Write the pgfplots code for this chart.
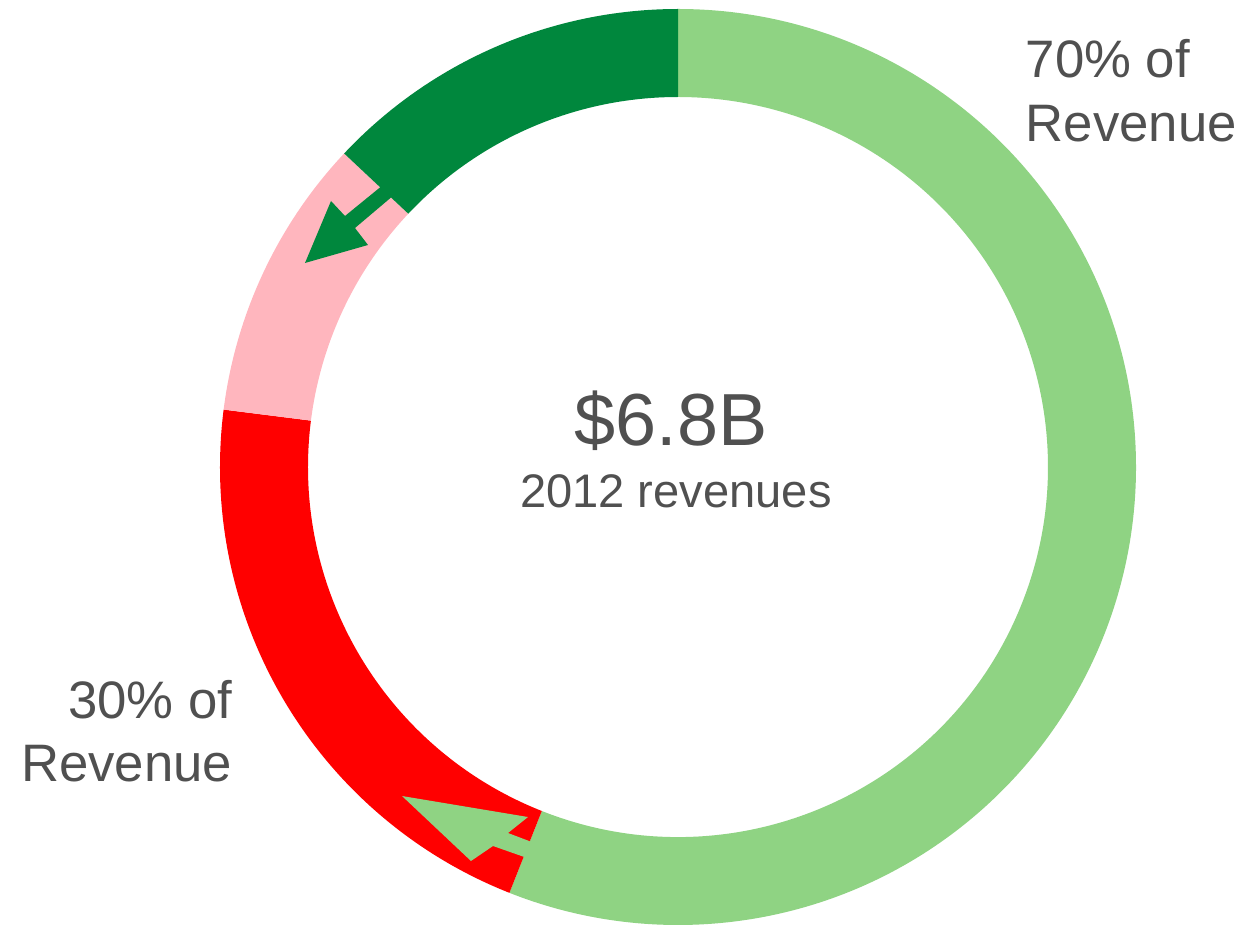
\documentclass[border=0pt]{standalone}
\usepackage{pgfplots}
\usepackage{pgfplotstable}
\pgfplotsset{compat=1.18}
\usepackage{fontspec}
\setmainfont{Liberation Sans}
\definecolor{lgreen}{HTML}{8FD383}
\definecolor{dgreen}{HTML}{00873D}
\definecolor{mypink}{HTML}{FFB6BE}
\definecolor{myred}{HTML}{FF0000}
\definecolor{txt}{HTML}{505050}

% shares of the donut, clockwise from 12 o'clock (percent)
\pgfplotstableread{
share
56
21
10
13
}\donut

\def\Ro{4.58}
\def\Ri{3.70}
\def\Rd{0.88}
\newcommand\ringseg[3]{%
  \fill[#3] (axis cs:0,0) ++(#1:\Ro) arc[start angle=#1, end angle=#2, radius=\Ro]
    -- ++({#2+180}:\Rd) arc[start angle=#2, end angle=#1, radius=\Ri] -- cycle;}

\begin{document}%
\begin{tikzpicture}
\pgfplotstablegetelem{0}{share}\of\donut \edef\sA{\pgfplotsretval}
\pgfplotstablegetelem{1}{share}\of\donut \edef\sB{\pgfplotsretval}
\pgfplotstablegetelem{2}{share}\of\donut \edef\sC{\pgfplotsretval}
\pgfplotstablegetelem{3}{share}\of\donut \edef\sD{\pgfplotsretval}
\pgfmathsetmacro\aA{90}
\pgfmathsetmacro\aB{\aA-3.6*\sA}
\pgfmathsetmacro\aC{\aB-3.6*\sB}
\pgfmathsetmacro\aD{\aC-3.6*\sC}
\pgfmathsetmacro\aE{\aD-3.6*\sD}
\begin{axis}[
  x=1cm, y=1cm, disabledatascaling,
  xmin=-6.78, xmax=5.67, ymin=-4.59, ymax=4.67,
  hide axis, clip=false]
  \path (axis cs:-6.78,-4.59) rectangle (axis cs:5.67,4.67);
  \ringseg{\aA}{\aB}{lgreen}
  \ringseg{\aB}{\aC}{myred}
  \ringseg{\aC}{\aD}{mypink}
  \ringseg{\aD}{\aE}{dgreen}
  % arrows
  \addplot[fill=dgreen, draw=none] coordinates {
    (-2.95,2.82) (-3.33,2.51) (-3.47,2.66) (-3.73,2.04)
    (-3.10,2.22) (-3.23,2.39) (-2.84,2.72)} -- cycle;
  \addplot[fill=lgreen, draw=none] coordinates {
    (-2.76,-3.29) (-1.50,-3.50) (-1.70,-3.66) (-1.41,-3.77)
    (-1.48,-3.92) (-1.85,-3.79) (-2.07,-3.94)} -- cycle;
  % texts
  \node[anchor=base, inner sep=0pt, text=txt, font=\fontsize{21}{25}\selectfont]
    at (axis cs:-0.07,0.21) {\$6.8B};
  \node[anchor=base, inner sep=0pt, text=txt, font=\fontsize{13.4}{16}\selectfont]
    at (axis cs:-0.02,-0.41) {2012 revenues};
  \node[anchor=base west, inner sep=0pt, text=txt, font=\fontsize{15}{18}\selectfont]
    at (axis cs:3.47,3.89) {70\% of};
  \node[anchor=base west, inner sep=0pt, text=txt, font=\fontsize{15}{18}\selectfont]
    at (axis cs:3.47,3.25) {Revenue};
  \node[anchor=base east, inner sep=0pt, text=txt, font=\fontsize{15}{18}\selectfont]
    at (axis cs:-4.45,-2.51) {30\% of};
  \node[anchor=base east, inner sep=0pt, text=txt, font=\fontsize{15}{18}\selectfont]
    at (axis cs:-4.45,-3.14) {Revenue};
\end{axis}
\end{tikzpicture}%
\end{document}
